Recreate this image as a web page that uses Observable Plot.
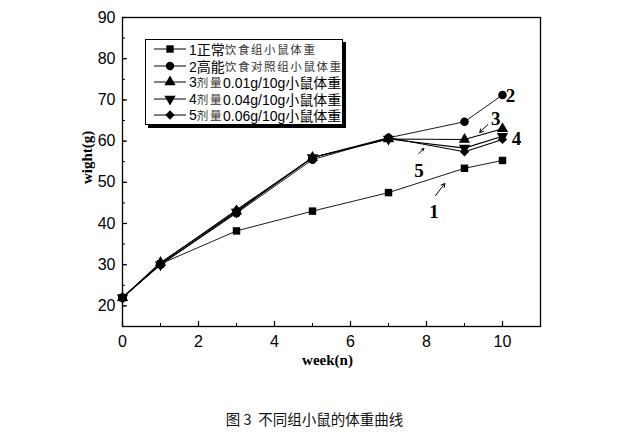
<!DOCTYPE html>
<html><head><meta charset="utf-8">
<script src="https://cdn.jsdelivr.net/npm/d3@7"></script>
<script src="https://cdn.jsdelivr.net/npm/@observablehq/plot@0.6"></script>
<style>
body{margin:0;background:#fff;}
#wrap{position:relative;width:617px;height:432px;}
#legend{position:absolute;left:145px;top:39px;width:198px;height:86px;border:1px solid #000;background:#fff;box-shadow:3px 3px 0 #000;box-sizing:border-box;padding-top:1px;}
.row{display:flex;align-items:center;height:16.5px;white-space:nowrap;}
.row svg{margin-left:8px;margin-right:3px;flex:none;}
.big{font-family:"Liberation Sans","Noto Sans CJK SC",sans-serif;font-size:14px;color:#000;}
.sm{font-family:"Noto Sans CJK SC",sans-serif;font-size:11.5px;color:#333;letter-spacing:1.6px;}
#caption{position:absolute;left:6px;width:617px;top:408px;text-align:center;font-family:"Noto Sans CJK SC",serif;font-size:14.5px;color:#111;white-space:pre;}
</style></head>
<body><div id="wrap"></div>
<script>
const weeks = [0, 1, 3, 5, 7, 9, 10];
const s1 = [22, 30.2, 38.2, 43, 47.5, 53.4, 55.3];
const s2 = [22, 30, 42.5, 55.5, 60.8, 64.7, 71.2];
const s3 = [22, 30.5, 43, 56, 60.5, 60.4, 63.0];
const s4 = [22, 30, 42.8, 56, 60.5, 58.3, 61.2];
const s5 = [22, 30.3, 43.3, 56, 60.8, 57.4, 60.4];
const seriesNames = ["1", "2", "3", "4", "5"];
const symbols = ["square", "circle", "triangle", "triangle", "diamond2"];
const rotations = [0, 0, 0, 180, 0];
const legendParts = [
  [["big","1正常"],["sm","饮食组小鼠体重"]],
  [["big","2高能"],["sm","饮食对照组小鼠体重"]],
  [["big","3"],["sm","剂量"],["big","0.01g/10g小鼠体重"]],
  [["big","4"],["sm","剂量"],["big","0.04g/10g小鼠体重"]],
  [["big","5"],["sm","剂量"],["big","0.06g/10g小鼠体重"]]
];
const xTicks = [0, 2, 4, 6, 8, 10];
const xMinor = [0,1,2,3,4,5,6,7,8,9,10,11];
const yTicks = [20, 30, 40, 50, 60, 70, 80, 90];
const yMinor = [15,20,25,30,35,40,45,50,55,60,65,70,75,80,85,90];
const annLabels = ["2", "3", "4", "5", "1"];
const annX = [10.21, 9.82, 10.37, 7.8, 8.2];
const annY = [70.9, 65.3, 60.6, 52.8, 42.9];
const arrX1 = [9.61, 7.8, 8.24];
const arrY1 = [64.0, 57.0, 46.8];
const arrX2 = [9.4, 7.93, 8.48];
const arrY2 = [62.1, 58.2, 49.7];

const allS = [s1, s2, s3, s4, s5];
const data = allS.flatMap((s, i) => s.map((v, j) => ({series: seriesNames[i], idx: i, week: weeks[j], w: v})));
const anns = annLabels.map((t, i) => ({t, x: annX[i], y: annY[i]}));
const arrows = arrX1.map((x, i) => ({x1: x, y1: arrY1[i], x2: arrX2[i], y2: arrY2[i]}));

const tickFont = "Liberation Sans, Arial, sans-serif";
const marks = [
  Plot.frame({stroke: "#000", strokeWidth: 1.3}),
  Plot.axisX({ticks: xTicks, tickSize: 0, tickPadding: 9, fontSize: 16, fontFamily: tickFont, label: null, fill: "#000"}),
  Plot.axisX({ticks: xTicks, tickSize: -5, text: null, label: null, strokeWidth: 1.2}),
  Plot.axisX({ticks: xMinor, tickSize: -3, text: null, label: null}),
  Plot.axisY({ticks: yTicks, tickSize: 0, tickPadding: 7, fontSize: 16, fontFamily: tickFont, label: null, fill: "#000"}),
  Plot.axisY({ticks: yTicks, tickSize: -5, text: null, label: null, strokeWidth: 1.2}),
  Plot.axisY({ticks: yMinor, tickSize: -3, text: null, label: null}),
  Plot.text(["wight(g)"], {frameAnchor: "left", dx: -35, dy: 12, rotate: -90, lineAnchor: "middle", fontFamily: "Liberation Serif, serif", fontWeight: "bold", fontSize: 15, fill: "#000"}),
  Plot.text(["week(n)"], {frameAnchor: "bottom", dx: -4, dy: 34, lineAnchor: "middle", fontFamily: "Liberation Serif, serif", fontWeight: "bold", fontSize: 15, fill: "#000"}),
];
allS.forEach((s, i) => {
  const d = data.filter(r => r.idx === i);
  marks.push(Plot.line(d, {x: "week", y: "w", stroke: "#000", strokeWidth: i === 0 || i === 1 ? 0.9 : 1.1}));
});
allS.forEach((s, i) => {
  const d = data.filter(r => r.idx === i);
  marks.push(Plot.dot(d, {x: "week", y: "w", symbol: () => symbols[i], rotate: rotations[i], fill: "#000", stroke: "none", r: i === 1 ? 4.3 : 4.2}));
});
marks.push(Plot.text(anns, {x: "x", y: "y", text: "t", fontFamily: "Liberation Serif, serif", fontWeight: "bold", fontSize: 19, fill: "#000"}));
marks.push(Plot.arrow(arrows, {x1: "x1", y1: "y1", x2: "x2", y2: "y2", stroke: "#000", strokeWidth: 1, headLength: 6}));

const chart = Plot.plot({
  width: 617, height: 390,
  marginLeft: 122, marginRight: 77, marginTop: 17, marginBottom: 64,
  x: {domain: [0, 11]},
  y: {domain: [15, 90]},
  style: {background: "#fff", overflow: "visible", fontSize: "16px"},
  marks
});
const wrap = document.getElementById("wrap");
wrap.appendChild(chart);

const leg = document.createElement("div");
leg.id = "legend";
legendParts.forEach((parts, i) => {
  const row = document.createElement("div");
  row.className = "row";
  const svg = d3.create("svg").attr("width", 32).attr("height", 12);
  svg.append("line").attr("x1", 0).attr("x2", 32).attr("y1", 6).attr("y2", 6).attr("stroke", "#000").attr("stroke-width", 1);
  const symMap = {square: d3.symbolSquare, circle: d3.symbolCircle, triangle: d3.symbolTriangle, diamond2: d3.symbolDiamond2};
  svg.append("path").attr("d", d3.symbol(symMap[symbols[i]], 55)()).attr("transform", `translate(16,6) rotate(${rotations[i]})`).attr("fill", "#000");
  row.appendChild(svg.node());
  parts.forEach(([cls, txt]) => {
    const sp = document.createElement("span");
    sp.className = cls; sp.textContent = txt;
    row.appendChild(sp);
  });
  leg.appendChild(row);
});
wrap.appendChild(leg);

const cap = document.createElement("div");
cap.id = "caption";
cap.textContent = "图 3  不同组小鼠的体重曲线";
wrap.appendChild(cap);
</script></body></html>
